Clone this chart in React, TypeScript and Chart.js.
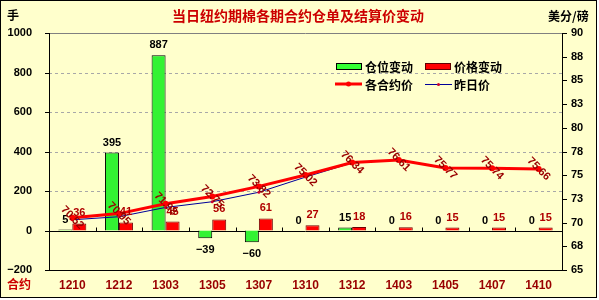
import React, { useEffect, useRef } from "react";
import { Chart, registerables } from "chart.js";

Chart.register(...registerables);

const categories = ["1210", "1212", "1303", "1305", "1307", "1310", "1312", "1403", "1405", "1407", "1410"];
const positionChange = [5, 395, 887, -39, -60, 0, 15, 0, 0, 0, 0];
const priceChange = [36, 41, 45, 56, 61, 27, 18, 16, 15, 15, 15];
const contractPrice = [70.52, 70.95, 71.98, 72.75, 73.82, 75.02, 76.34, 76.61, 75.77, 75.74, 75.66];
const prevPrice = [70.3, 70.62, 71.6, 72.2, 73.2, 74.8, 76.3, 76.62, 75.8, 75.75, 75.62];

const leftTicks = { min: -200, max: 1000, step: 200 };
const rightTicks = { min: 65, max: 90, step: 2.5 };

const titleText = "当日纽约期棉各期合约仓单及结算价变动";
const leftUnit = "手";
const rightUnit = "美分/磅";
const xUnit = "合约";
const seriesNames = ["仓位变动", "价格变动", "各合约价", "昨日价"];

const CJK = '"Noto Sans CJK SC", sans-serif';
const NUM = '"Liberation Sans", Arial, sans-serif';

const decorPlugin = {
  id: "decor",
  beforeDraw(chart: any) {
    const { ctx, width, height } = chart;
    ctx.save();
    ctx.fillStyle = "#ffffff";
    ctx.fillRect(0, 0, width, height);
    ctx.fillStyle = "#FFFFCC";
    ctx.fillRect(1, 1, 595, 296);
    ctx.strokeStyle = "#000000";
    ctx.lineWidth = 1;
    ctx.strokeRect(0.5, 0.5, 596, 297);
    ctx.restore();
  },
  beforeDatasetsDraw(chart: any) {
    const { ctx, chartArea } = chart;
    const y = chart.scales.y;
    const y1 = chart.scales.y1;
    const x = chart.scales.x;
    const { left, right, top, bottom } = chartArea;
    ctx.save();
    // dashed gridlines
    ctx.strokeStyle = "#a8a8a8";
    ctx.lineWidth = 1;
    ctx.setLineDash([3, 3]);
    for (let v = leftTicks.min + leftTicks.step; v < leftTicks.max; v += leftTicks.step) {
      if (v === 0) continue;
      const py = Math.round(y.getPixelForValue(v)) + 0.5;
      ctx.beginPath();
      ctx.moveTo(left, py);
      ctx.lineTo(right, py);
      ctx.stroke();
    }
    ctx.setLineDash([]);
    // top border
    ctx.strokeStyle = "#808080";
    ctx.beginPath();
    ctx.moveTo(left, top + 0.5);
    ctx.lineTo(right, top + 0.5);
    ctx.stroke();
    // axes
    ctx.strokeStyle = "#000000";
    ctx.beginPath();
    ctx.moveTo(left + 0.5, top);
    ctx.lineTo(left + 0.5, bottom);
    ctx.moveTo(right + 0.5, top);
    ctx.lineTo(right + 0.5, bottom);
    ctx.moveTo(left, bottom + 0.5);
    ctx.lineTo(right + 1, bottom + 0.5);
    ctx.stroke();
    // zero line
    const zy = Math.round(y.getPixelForValue(0)) + 0.5;
    ctx.beginPath();
    ctx.moveTo(left, zy);
    ctx.lineTo(right, zy);
    ctx.stroke();
    // category tick marks
    ctx.beginPath();
    for (let i = 1; i < categories.length; i++) {
      const px = Math.round((x.getPixelForValue(i - 1) + x.getPixelForValue(i)) / 2) + 0.5;
      ctx.moveTo(px, zy);
      ctx.lineTo(px, zy - 4);
    }
    ctx.stroke();
    // left ticks
    ctx.beginPath();
    for (let v = leftTicks.min; v <= leftTicks.max; v += leftTicks.step) {
      const py = Math.round(y.getPixelForValue(v)) + 0.5;
      ctx.moveTo(left - 4, py);
      ctx.lineTo(left, py);
    }
    // right ticks
    for (let v = rightTicks.min; v <= rightTicks.max; v += rightTicks.step) {
      const py = Math.round(y1.getPixelForValue(v)) + 0.5;
      ctx.moveTo(right, py);
      ctx.lineTo(right + 5, py);
    }
    ctx.stroke();
    ctx.restore();
  },
  afterDatasetsDraw(chart: any) {
    const { ctx } = chart;
    ctx.save();
    // bar labels
    ctx.textAlign = "center";
    ctx.textBaseline = "middle";
    ctx.font = `bold 11px ${NUM}`;
    const m0 = chart.getDatasetMeta(0);
    m0.data.forEach((el: any, i: number) => {
      const v = positionChange[i];
      ctx.fillStyle = "#000000";
      const ty = v >= 0 ? el.y - 10 : el.y + 12;
      ctx.fillText(v < 0 ? "\u2212" + Math.abs(v) : String(v), el.x, ty);
    });
    const m1 = chart.getDatasetMeta(1);
    m1.data.forEach((el: any, i: number) => {
      const v = priceChange[i];
      ctx.fillStyle = "#b00000";
      const ty = v >= 0 ? el.y - 10 : el.y + 12;
      ctx.fillText(String(v), el.x, ty);
    });
    // line labels (rotated)
    const m2 = chart.getDatasetMeta(2);
    ctx.fillStyle = "#990000";
    ctx.font = `bold 11px ${NUM}`;
    m2.data.forEach((el: any, i: number) => {
      ctx.save();
      ctx.translate(el.x, el.y);
      ctx.rotate(Math.PI / 4);
      ctx.fillText(contractPrice[i].toFixed(2), 0, 0);
      ctx.restore();
    });

    // title & units
    ctx.textBaseline = "middle";
    ctx.textAlign = "center";
    ctx.font = `bold 14px ${CJK}`;
    ctx.fillStyle = "#cc0000";
    ctx.fillText(titleText, 298, 16);
    ctx.fillStyle = "#000000";
    ctx.font = `bold 12px ${CJK}`;
    ctx.textAlign = "left";
    ctx.fillText(leftUnit, 7, 15);
    ctx.fillText(rightUnit, 548, 16);
    ctx.fillStyle = "#cc0000";
    ctx.fillText(xUnit, 7, 284);

    // legend
    ctx.lineWidth = 1;
    ctx.fillStyle = "#33ff33";
    ctx.fillRect(336, 63, 26, 7);
    ctx.strokeStyle = "#000000";
    ctx.strokeRect(336.5, 63.5, 25, 6);
    ctx.fillStyle = "#ff0000";
    ctx.fillRect(425, 63, 26, 7);
    ctx.strokeStyle = "#600000";
    ctx.strokeRect(425.5, 63.5, 25, 6);
    ctx.strokeStyle = "#ff0000";
    ctx.lineWidth = 3;
    ctx.beginPath();
    ctx.moveTo(335, 84);
    ctx.lineTo(362, 84);
    ctx.stroke();
    ctx.fillStyle = "#ff0000";
    ctx.beginPath();
    ctx.arc(348.5, 84, 2.5, 0, Math.PI * 2);
    ctx.fill();
    ctx.strokeStyle = "#000099";
    ctx.lineWidth = 1;
    ctx.beginPath();
    ctx.moveTo(425, 84.5);
    ctx.lineTo(452, 84.5);
    ctx.stroke();
    ctx.fillStyle = "#cc0033";
    ctx.beginPath();
    ctx.arc(438.5, 84.5, 1.5, 0, Math.PI * 2);
    ctx.fill();
    ctx.fillStyle = "#000000";
    ctx.font = `bold 12px ${CJK}`;
    ctx.textAlign = "left";
    ctx.fillText(seriesNames[0], 365, 67);
    ctx.fillText(seriesNames[1], 454, 67);
    ctx.fillText(seriesNames[2], 365, 85);
    ctx.fillText(seriesNames[3], 454, 85);
    ctx.restore();
  },
};

export default function App() {
  const ref = useRef<HTMLCanvasElement | null>(null);
  useEffect(() => {
    if (!ref.current) return;
    const chart = new Chart(ref.current, {
      type: "bar",
      data: {
        labels: categories,
        datasets: [
          {
            type: "bar",
            label: seriesNames[0],
            data: positionChange,
            yAxisID: "y",
            backgroundColor: "#33f233",
            borderColor: "#000000",
            borderWidth: 1,
            categoryPercentage: 0.6,
            barPercentage: 1,
            order: 2,
          } as any,
          {
            type: "bar",
            label: seriesNames[1],
            data: priceChange,
            yAxisID: "y",
            backgroundColor: "#ff0000",
            borderColor: "#700000",
            borderWidth: 1,
            categoryPercentage: 0.6,
            barPercentage: 1,
            order: 2,
          } as any,
          {
            type: "line",
            label: seriesNames[2],
            data: contractPrice,
            yAxisID: "y1",
            borderColor: "#ff0000",
            backgroundColor: "#ff0000",
            borderWidth: 3,
            pointRadius: 3,
            pointBorderWidth: 0,
            tension: 0,
            order: 0,
          } as any,
          {
            type: "line",
            label: seriesNames[3],
            data: prevPrice,
            yAxisID: "y1",
            borderColor: "#000099",
            backgroundColor: "#cc0033",
            borderWidth: 1,
            pointRadius: 1.5,
            pointBorderWidth: 0,
            tension: 0,
            order: 1,
          } as any,
        ],
      },
      options: {
        responsive: false,
        animation: false,
        layout: { padding: { left: 0, right: 0, top: 33, bottom: 0 } },
        plugins: { legend: { display: false }, tooltip: { enabled: false }, title: { display: false } },
        scales: {
          x: {
            offset: true,
            grid: { display: false, drawTicks: false },
            border: { display: false },
            ticks: { color: "#990000", font: { family: NUM, size: 12, weight: "bold" }, padding: 8, maxRotation: 0 },
            afterFit: (s: any) => { s.height = 30; },
          },
          y: {
            position: "left",
            min: leftTicks.min,
            max: leftTicks.max,
            grid: { display: false, drawTicks: false },
            border: { display: false },
            ticks: {
              stepSize: leftTicks.step,
              color: "#000000",
              padding: 17,
              font: { family: NUM, size: 11, weight: "bold" },
              callback: (v: any) => (v < 0 ? "\u2212" + Math.abs(v) : String(v)),
            },
            afterFit: (s: any) => { s.width = 49; },
          },
          y1: {
            position: "right",
            min: rightTicks.min,
            max: rightTicks.max,
            grid: { display: false, drawTicks: false },
            border: { display: false },
            ticks: {
              stepSize: rightTicks.step,
              color: "#000000",
              padding: 9,
              font: { family: NUM, size: 11, weight: "bold" },
              callback: (v: any) => String(Math.round(v)),
            },
            afterFit: (s: any) => { s.width = 37; },
          },
        },
      } as any,
      plugins: [decorPlugin],
    });
    return () => chart.destroy();
  }, []);
  return (
    <div style={{ position: "fixed", left: 0, top: 0, width: 599, height: 300 }}>
      <canvas ref={ref} width={599} height={300} style={{ display: "block" }} />
    </div>
  );
}
